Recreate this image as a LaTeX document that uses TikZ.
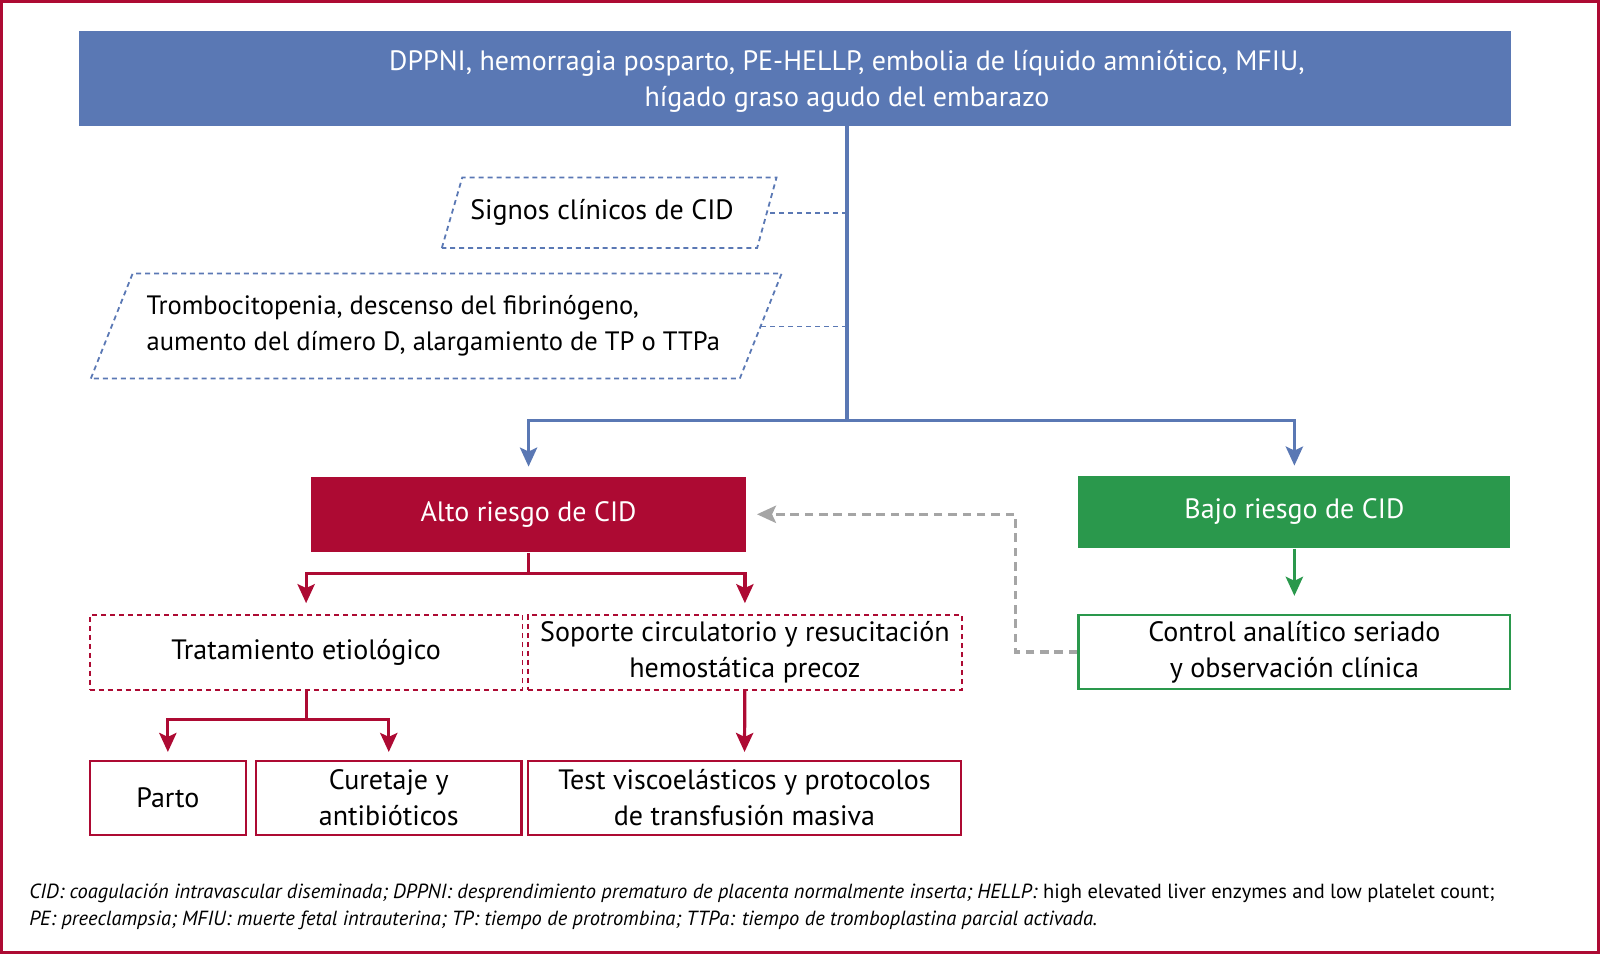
\documentclass[tikz,border=0pt]{standalone}
\usepackage{fontspec}
\setmainfont{PT Sans}
\usetikzlibrary{arrows.meta}
\definecolor{cidblue}{RGB}{90,120,180}
\definecolor{cidred}{RGB}{173,10,51}
\definecolor{cidgreen}{RGB}{42,152,76}
\definecolor{cidgray}{RGB}{165,165,165}
\tikzset{
  mainfont/.style = {font=\fontsize{7.8}{10}\selectfont},
  filled/.style = {rectangle, inner sep=0pt, mainfont, align=center, text=white},
  outlined/.style = {rectangle, inner sep=0pt, mainfont, align=center, fill=white, line width=0.6pt},
  dashedred/.style = {outlined, draw=cidred, dash pattern=on 1.4pt off 1.1pt, line width=0.5pt},
  dashedblue/.style = {draw=cidblue, dash pattern=on 1.4pt off 1.1pt, line width=0.5pt},
  tip/.style = {-{Stealth[length=5.3pt, width=4.8pt, inset=1.1pt]}},
  bluearrow/.style = {draw=cidblue, line width=0.9pt, tip},
  redarrow/.style = {draw=cidred, line width=0.9pt, tip},
  greenarrow/.style = {draw=cidgreen, line width=0.9pt, tip},
  grayarrow/.style = {draw=cidgray, line width=0.9pt, dash pattern=on 2.4pt off 1.6pt,
                      -{Stealth[length=5.3pt, width=4.8pt, inset=1.1pt]}}
}
\begin{document}
\begin{tikzpicture}[x=0.01cm, y=-0.01cm]
\useasboundingbox (0,0) rectangle (1568,935);
\draw[cidred, line width=0.9pt] (1.5,1.5) rectangle (1566.5,933.5);

% top box
\node[filled, fill=cidblue, minimum width=14.02cm, minimum height=0.93cm] (causes) at (779,76.5) {};
\node[filled] (causestext) at (830,79.5)
  {DPPNI, hemorragia posparto, PE-HELLP, embolia de líquido amniótico, MFIU,\\hígado graso agudo del embarazo};
\coordinate (top) at (causestext |- causes.south);
\coordinate (split) at (830,412);

% dashed parallelograms
\draw[dashedblue] (433,243) -- (453,174) -- (761,174) -- (742,243) -- cycle;
\node[inner sep=0pt, mainfont] (signs) at (590,208.5) {Signos clínicos de CID};
\draw[dashedblue] (89,371) -- (130,268) -- (766,268) -- (725,371) -- cycle;
\node[inner sep=0pt, align=left, anchor=west, font=\fontsize{7.4}{10}\selectfont] (labs) at (143,319)
  {Trombocitopenia, descenso del fibrinógeno,\\aumento del dímero D, alargamiento de TP o TTPa};
\coordinate (signsedge) at (751.4,209);
\coordinate (labsedge) at (745.3,320);
\coordinate (signsj) at (830,209);
\coordinate (labsj) at (830,320);

% risk boxes
\node[filled, fill=cidred, minimum width=4.26cm, minimum height=0.74cm] (high) at (518,504) {Alto riesgo de CID};
\node[filled, fill=cidgreen, minimum width=4.23cm, minimum height=0.71cm] (low) at (1268.5,501.5) {Bajo riesgo de CID};
\node[outlined, draw=cidgreen, minimum width=4.23cm, minimum height=0.72cm] (control) at (1268.5,639)
  {Control analítico seriado\\y observación clínica};

% second level
\node[dashedred, minimum width=4.24cm, minimum height=0.73cm] (etio) at (300,639.5) {Tratamiento etiológico};
\node[dashedred, minimum width=4.25cm, minimum height=0.73cm] (support) at (730,639.5)
  {Soporte circulatorio y resucitación\\hemostática precoz};
\coordinate (highj) at (518,562);
\coordinate (etioj) at (300,705);

% third level
\node[outlined, draw=cidred, minimum width=1.53cm, minimum height=0.72cm] (birth) at (164.5,782) {Parto};
\node[outlined, draw=cidred, minimum width=2.60cm, minimum height=0.72cm] (curet) at (381,782) {Curetaje y\\antibióticos};
\node[outlined, draw=cidred, minimum width=4.24cm, minimum height=0.72cm] (tests) at (729.5,782)
  {Test viscoelásticos y protocolos\\de transfusión masiva};

% connectors
\draw[cidblue, line width=0.9pt] (top) -- (split);
\draw[bluearrow, shorten >=0.9mm] (split) -| (high);
\draw[bluearrow, shorten >=0.9mm] (split) -| (low);
\draw[dashedblue] (signsj) -- (signsedge);
\draw[dashedblue] (labsj) -- (labsedge);
\draw[greenarrow, shorten >=1.8mm] (low) -- (control);
\coordinate (grayj) at (995,639);
\draw[grayarrow, shorten >=1mm] (control.west) -- (grayj) |- (high.east);
\draw[cidred, line width=0.9pt] (high) -- (highj);
\draw[redarrow, shorten >=1.1mm] (highj) -| (etio);
\draw[redarrow, shorten >=1.1mm] (highj) -| (support);
\draw[cidred, line width=0.9pt] (etio) -- (etioj);
\draw[redarrow, shorten >=0.8mm] (etioj) -| (birth);
\draw[redarrow, shorten >=0.8mm] (etioj) -| (curet);
\draw[redarrow, shorten >=0.8mm] (support) -- (tests);

% footnote
\node[anchor=west, align=left, inner sep=0pt, font=\fontsize{5.7}{7.7}\selectfont] (note) at (28,888.5)
  {\textit{CID: coagulación intravascular diseminada; DPPNI: desprendimiento prematuro de placenta normalmente inserta; HELLP:} high elevated liver enzymes and low platelet count;\\
   \textit{PE: preeclampsia; MFIU: muerte fetal intrauterina; TP: tiempo de protrombina; TTPa: tiempo de tromboplastina parcial activada.}};
\end{tikzpicture}
\end{document}
